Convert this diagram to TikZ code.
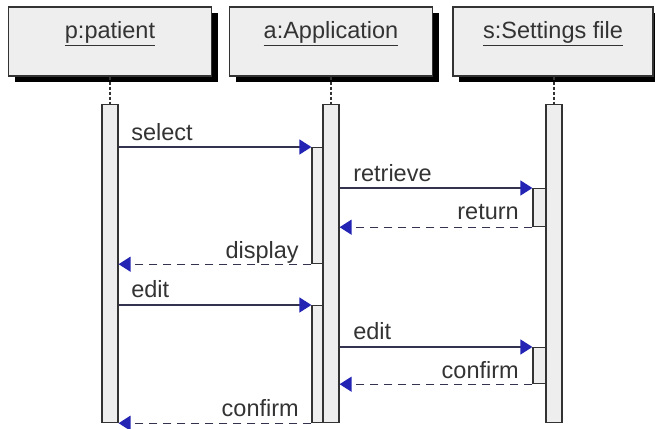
\documentclass[tikz,border=0pt]{standalone}
\usepackage{fontspec}
\setmainfont{Liberation Sans}
\usetikzlibrary{arrows.meta,shadows}

\definecolor{boxgray}{HTML}{EEEEEE}
\definecolor{linegray}{HTML}{333333}
\definecolor{msgline}{HTML}{33334F}
\definecolor{tipblue}{HTML}{2424B4}

\begin{document}
\begin{tikzpicture}[x=1pt,y=-1pt,
  objbox/.style={draw=linegray, line width=1.4pt, fill=boxgray, minimum width=203pt, minimum height=69pt,
    text height=18pt, text depth=23pt, text=linegray, font=\fontsize{23.5}{28}\selectfont,
    drop shadow={shadow xshift=6pt, shadow yshift=-6pt, fill=black, opacity=1}},
  bar/.style={draw=linegray, line width=1.2pt, fill=boxgray, minimum width=16pt, inner sep=0pt, anchor=north},
  nested/.style={bar, minimum width=11pt},
  life/.style={linegray, line width=1.5pt, dash pattern=on 3pt off 2pt},
  call/.style={msgline, line width=1.3pt, -{Triangle[length=12pt,width=15pt,color=tipblue]}},
  reply/.style={call, dash pattern=on 8pt off 6pt},
  lbl/.style={text=linegray, inner sep=0pt, font=\fontsize{23.5}{28}\selectfont}]

\useasboundingbox (0,0) rectangle (655,428);
\clip (0,0) rectangle (655,428);

\node[objbox] (p) at (110,41.5) {\underline{p:patient}};
\node[objbox] (a) at (331,41.5) {\underline{a:Application}};
\node[objbox, minimum width=200pt] (s) at (553,41.5) {\underline{s:Settings file}};

\node[bar, minimum height=318pt] (pbar) at (110,104) {};
\node[bar, minimum height=318pt] (abar) at (331,104) {};
\node[bar, minimum height=318pt] (sbar) at (554,104) {};

\draw[life] (p.south) -- (pbar.north);
\draw[life] (abar.north |- a.south) -- (abar.north);
\draw[life] (sbar.north |- s.south) -- (sbar.north);

\node[nested, minimum height=116pt] (an1) at (317.5,147) {};
\node[nested, minimum height=117pt] (an2) at (317.5,305) {};
\node[nested, minimum width=13pt, minimum height=38pt] (sn1) at (539.5,188) {};
\node[nested, minimum width=13pt, minimum height=36pt] (sn2) at (539.5,347) {};

\draw[call] (pbar.east |- an1.north) -- (an1.north west)
  node[lbl, pos=0, anchor=base west, xshift=12pt, yshift=7pt] (l1) {select};
\draw[call] (abar.east |- sn1.north) -- (sn1.north west)
  node[lbl, pos=0, anchor=base west, xshift=13pt, yshift=7pt] (l2) {retrieve};
\draw[reply] (sn1.south west) -- (abar.east |- sn1.south)
  node[lbl, pos=0, anchor=base east, xshift=-13pt, yshift=8pt] (l3) {return};
\draw[reply] (an1.south west) -- (pbar.east |- an1.south)
  node[lbl, pos=0, anchor=base east, xshift=-12pt, yshift=6pt] (l4) {display};

\draw[call] (pbar.east |- an2.north) -- (an2.north west)
  node[lbl, pos=0, anchor=base west, xshift=12pt, yshift=8pt] (l5) {edit};
\draw[call] (abar.east |- sn2.north) -- (sn2.north west)
  node[lbl, pos=0, anchor=base west, xshift=13pt, yshift=8pt] (l6) {edit};
\draw[reply] (sn2.south west) -- (abar.east |- sn2.south)
  node[lbl, pos=0, anchor=base east, xshift=-13pt, yshift=6pt] (l7) {confirm};
\draw[reply] (an2.south west) -- (pbar.east |- an2.south)
  node[lbl, pos=0, anchor=base east, xshift=-12pt, yshift=7pt] (l8) {confirm};

\end{tikzpicture}
\end{document}
